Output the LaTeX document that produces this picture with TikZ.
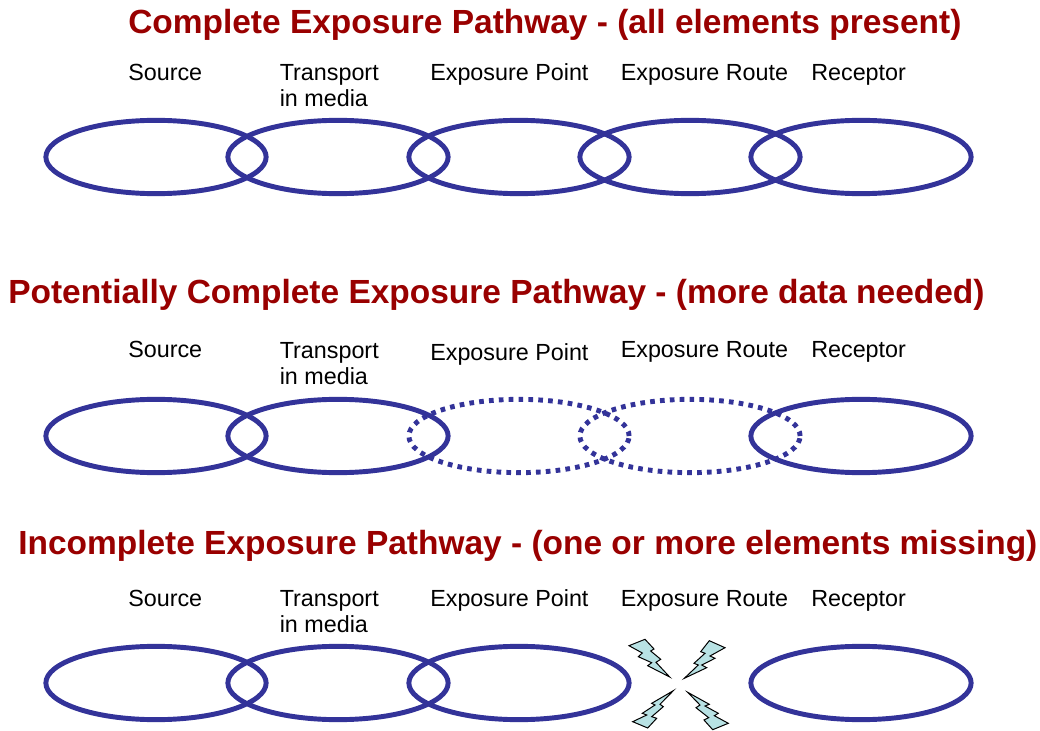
\documentclass[tikz,border=0pt]{standalone}
\usepackage{fontspec}
\setmainfont{Liberation Sans}
\usetikzlibrary{shapes.geometric}
\definecolor{ringblue}{HTML}{333399}
\definecolor{titlered}{HTML}{990000}
\definecolor{boltfill}{HTML}{B8E2E4}
\tikzset{
  ring/.style={draw=ringblue, line width=3.7pt, ellipse, minimum width=165.2pt, minimum height=55pt, inner sep=0pt, outer sep=0pt},
  dotring/.style={ring, dash pattern=on 3.5pt off 3.9pt},
  title/.style={anchor=base west, inner sep=0pt, text=titlered, font=\fontsize{25.1}{29}\selectfont\bfseries},
  label/.style={anchor=base west, inner sep=0pt, font=\fontsize{17.5}{19.7}\selectfont},
  twolabel/.style={anchor=north west, align=left, inner sep=0pt, font=\fontsize{17.5}{19.7}\selectfont},
  bolt/.style={draw=black, line width=0.75pt, fill=boltfill, line join=miter}
}
\begin{document}
\begin{tikzpicture}[x=0.75pt, y=-0.75pt]
    \useasboundingbox (0,0) rectangle (1040,731);

    % complete
    \node[title] (titleA) at (128,34) {Complete Exposure Pathway - (all elements present)};
    \node[label] (sourceA) at (128,81) {Source};
    \node[twolabel] (transportA) at (279.5,64) {Transport\\in media};
    \node[label] (pointA) at (430,81) {Exposure Point};
    \node[label] (routeA) at (620.5,81) {Exposure Route};
    \node[label] (receptorA) at (811,81) {Receptor};
    \node[ring] (ringA1) at (156,157) {};
    \node[ring] (ringA2) at (338,157) {};
    \node[ring] (ringA3) at (519,157) {};
    \node[ring] (ringA4) at (690,157) {};
    \node[ring] (ringA5) at (861,157) {};

    % potentially complete
    \node[title] (titleB) at (8,304) {Potentially Complete Exposure Pathway - (more data needed)};
    \node[label] (sourceB) at (128,358) {Source};
    \node[twolabel] (transportB) at (279.5,342) {Transport\\in media};
    \node[label] (pointB) at (430,360) {Exposure Point};
    \node[label] (routeB) at (620.5,358) {Exposure Route};
    \node[label] (receptorB) at (811,358) {Receptor};
    \node[ring] (ringB1) at (156,436) {};
    \node[ring] (ringB2) at (338,436) {};
    \node[dotring] (ringB3) at (519,436) {};
    \node[dotring] (ringB4) at (690,436) {};
    \node[ring] (ringB5) at (861,436) {};

    % incomplete
    \node[title] (titleC) at (18,554) {Incomplete Exposure Pathway - (one or more elements missing)};
    \node[label] (sourceC) at (128,606) {Source};
    \node[twolabel] (transportC) at (279.5,590) {Transport\\in media};
    \node[label] (pointC) at (430,606) {Exposure Point};
    \node[label] (routeC) at (620.5,606) {Exposure Route};
    \node[label] (receptorC) at (811,606) {Receptor};
    \node[ring] (ringC1) at (156,683) {};
    \node[ring] (ringC2) at (338,683) {};
    \node[ring] (ringC3) at (519,683) {};
    \node[ring] (ringC5) at (861,683) {};

    % bolts
    \draw[bolt] (629,645.7) -- (645,639.3) -- (654,649) -- (650.7,651) -- (660.7,659.3) -- (656,662.3) -- (669.7,677) -- (647.7,665.7) -- (651.7,662.7) -- (638.3,656.7) -- (642.3,653) -- cycle;
    \draw[bolt] (725,647.7) -- (709.3,640.7) -- (700.7,651.7) -- (705,653.3) -- (694,663.3) -- (698.3,665) -- (684.3,678.3) -- (706.7,667.7) -- (701.7,665) -- (715,658.3) -- (710,656) -- cycle;
    \draw[bolt] (673.3,690.7) -- (651.7,703.3) -- (655,705) -- (642.3,713.3) -- (646.7,715) -- (632.7,721.7) -- (647.7,728) -- (656.7,718.3) -- (651.7,716.7) -- (663.3,706.7) -- (660,704.3) -- cycle;
    \draw[bolt] (687.7,692.3) -- (709.3,704.3) -- (705,706) -- (718.3,713.3) -- (714.3,715.7) -- (728.3,723.3) -- (712.7,729.7) -- (704,720) -- (708.7,717.7) -- (696,707.7) -- (700,705) -- cycle;
\end{tikzpicture}
\end{document}
